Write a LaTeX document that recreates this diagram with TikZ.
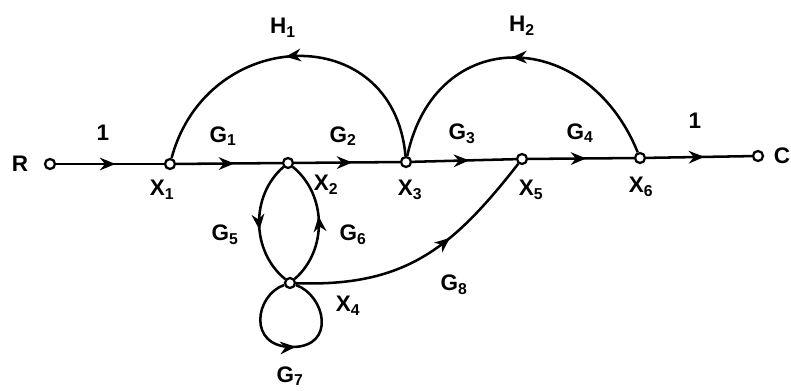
\documentclass[tikz,border=0pt]{standalone}
\usepackage{fontspec}
\setmainfont{Liberation Sans}
\usetikzlibrary{arrows.meta,decorations.markings}

\begin{document}
\begin{tikzpicture}[x=0.025cm,y=0.025cm,line width=1.8pt,
 font=\fontsize{16}{18}\selectfont\bfseries,
 pt/.style={draw,circle,fill=white,inner sep=0pt,minimum size=0.25cm,line width=1.6pt},
 lab/.style={inner sep=1pt},
 marr/.style={postaction={decorate,decoration={markings,mark=at position #1 with {\arrow{Stealth[length=11pt,width=9pt]}}}}}]
\useasboundingbox (0,0) rectangle (791,390);
\node[pt] (r) at (50,226) {};
\node[pt] (x1) at (170,226) {};
\node[pt] (x2) at (288,227) {};
\node[pt] (x3) at (406,228) {};
\node[pt] (x5) at (522,231) {};
\node[pt] (x6) at (640,232) {};
\node[pt] (c) at (758,234) {};
\node[pt] (x4) at (290,107) {};
\coordinate (lp) at (292,43);
\node[lab] (lr) at (20,226) {R};
\node[lab] (lc) at (782,234) {C};
\node[lab] (lx1) at (162,200) {X\textsubscript{1}};
\node[lab] (lx2) at (326,205) {X\textsubscript{2}};
\node[lab] (lx3) at (410,200) {X\textsubscript{3}};
\node[lab] (lx5) at (531,200) {X\textsubscript{5}};
\node[lab] (lx6) at (641,203) {X\textsubscript{6}};
\node[lab] (lx4) at (348,84) {X\textsubscript{4}};
\node[lab] (l1a) at (103,257) {1};
\node[lab] (lg1) at (223,254) {G\textsubscript{1}};
\node[lab] (lg2) at (343,254) {G\textsubscript{2}};
\node[lab] (lg3) at (462,256) {G\textsubscript{3}};
\node[lab] (lg4) at (580,257) {G\textsubscript{4}};
\node[lab] (l1b) at (695,269) {1};
\node[lab] (lh1) at (283,362) {H\textsubscript{1}};
\node[lab] (lh2) at (522,364) {H\textsubscript{2}};
\node[lab] (lg5) at (225,155) {G\textsubscript{5}};
\node[lab] (lg6) at (353,155) {G\textsubscript{6}};
\node[lab] (lg7) at (290,14) {G\textsubscript{7}};
\node[lab] (lg8) at (454,105) {G\textsubscript{8}};
\draw[marr=0.55] (r) -- (x1);
\draw[marr=0.55] (x1) -- (x2);
\draw[marr=0.55] (x2) -- (x3);
\draw[marr=0.55] (x3) -- (x5);
\draw[marr=0.55] (x5) -- (x6);
\draw[marr=0.55] (x6) -- (c);
\draw[marr=0.52] (x3) to[out=95,in=75,looseness=1.5] (x1);
\draw[marr=0.52] (x6) to[out=112,in=78,looseness=1.5] (x3);
\draw[marr=0.55] (x2) to[bend right=50] (x4);
\draw[marr=0.55] (x4) to[bend right=50] (x2);
\draw[marr=0.62] (x4) to[out=-2,in=232,looseness=1.1] (x5);
\draw[marr=0.52] (x4) .. controls +(-35,-12) and +(-45,0) .. (lp) .. controls +(45,0) and +(35,-12) .. (x4);
\end{tikzpicture}
\end{document}
